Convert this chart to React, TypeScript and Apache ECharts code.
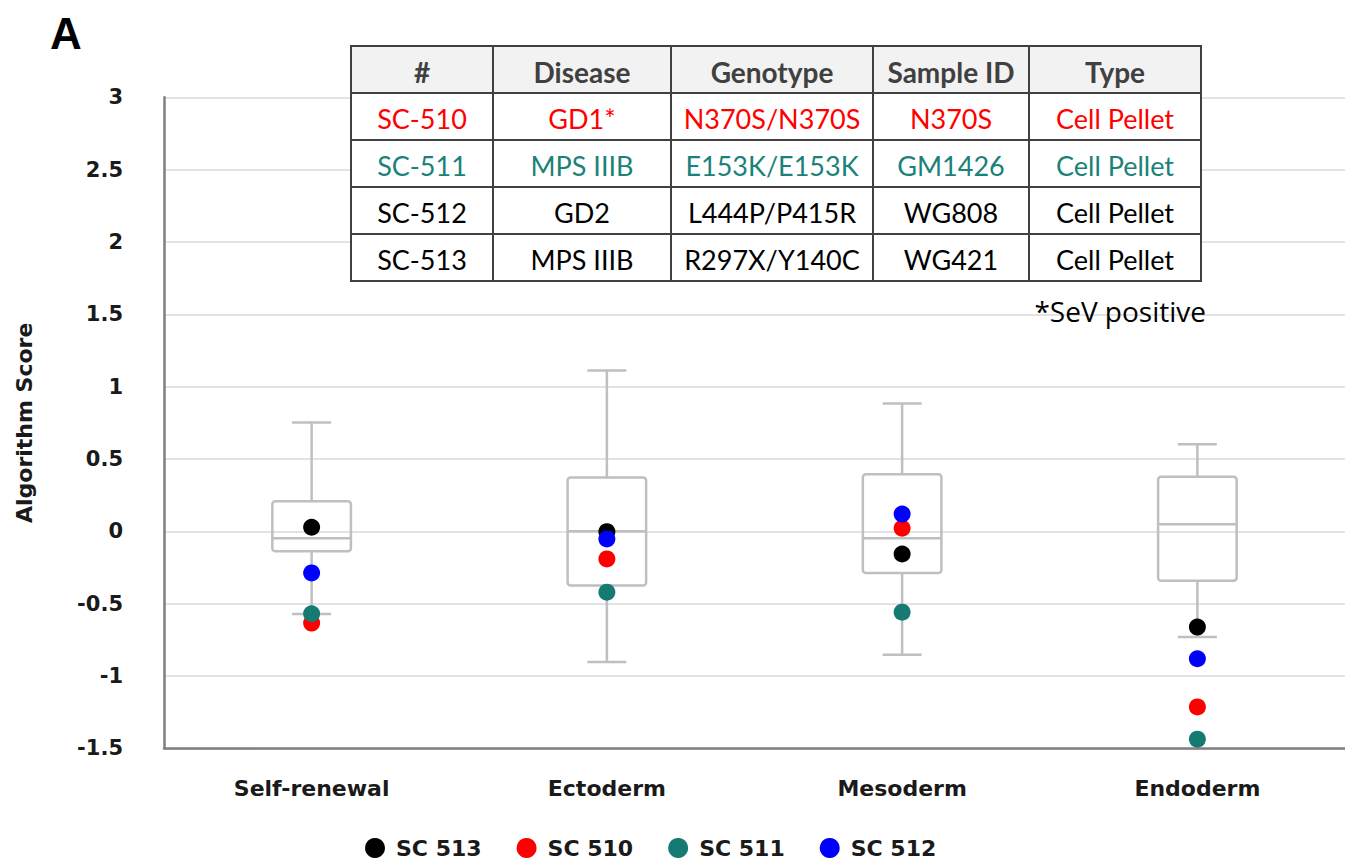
import React, { useEffect, useRef } from "react";
import * as echarts from "echarts";

const categories = ["Self-renewal", "Ectoderm", "Mesoderm", "Endoderm"];
// [min, Q1, median, Q3, max]
const boxMin = [-0.572, -0.903, -0.853, -0.731];
const boxQ1 = [-0.138, -0.375, -0.288, -0.341];
const boxMedian = [-0.048, 0.0, -0.048, 0.048];
const boxQ3 = [0.207, 0.372, 0.395, 0.377];
const boxMax = [0.752, 1.112, 0.883, 0.602];

const seriesNames = ["SC 513", "SC 510", "SC 511", "SC 512"];
const seriesColors = ["#000000", "#ff0000", "#147a72", "#0000ff"];
const sc513 = [0.028, -0.003, -0.157, -0.662];
const sc510 = [-0.634, -0.191, 0.021, -1.214];
const sc511 = [-0.57, -0.421, -0.559, -1.437];
const sc512 = [-0.288, -0.053, 0.119, -0.881];
const seriesValues = [sc513, sc510, sc511, sc512];

const yTicks = { min: -1.5, max: 3, interval: 0.5 };

const tableHeader = ["#", "Disease", "Genotype", "Sample ID", "Type"];
const tableRows = [
  ["SC-510", "GD1*", "N370S/N370S", "N370S", "Cell Pellet"],
  ["SC-511", "MPS IIIB", "E153K/E153K", "GM1426", "Cell Pellet"],
  ["SC-512", "GD2", "L444P/P415R", "WG808", "Cell Pellet"],
  ["SC-513", "MPS IIIB", "R297X/Y140C", "WG421", "Cell Pellet"],
];
const rowColors = ["#ff0000", "#1a8278", "#000000", "#000000"];
const footnote = "*SeV positive";

const colX = [351, 493, 671, 873, 1029, 1201];
const rowY = [46, 93, 140, 187, 234, 281];

export default function App() {
  const ref = useRef<HTMLDivElement>(null);
  useEffect(() => {
    if (!ref.current) return;
    const chart = echarts.init(ref.current, undefined, { renderer: "svg" });

    const boxData = categories.map((_, i) => [i, boxMin[i], boxQ1[i], boxMedian[i], boxQ3[i], boxMax[i]]);

    const graphics: any[] = [];
    graphics.push({
      type: "text",
      left: 50,
      top: 11,
      style: { text: "A", font: "bold 44px 'Liberation Sans', Arial", fill: "#000" },
    });
    const tableFont = "Lato";
    for (let r = 0; r < 5; r++) {
      for (let c = 0; c < 5; c++) {
        graphics.push({
          type: "rect",
          shape: { x: colX[c], y: rowY[r], width: colX[c + 1] - colX[c], height: rowY[r + 1] - rowY[r] },
          style: { fill: r === 0 ? "#f2f2f2" : "#ffffff", stroke: "#404040", lineWidth: 2 },
          z: 10,
        });
        const txt = r === 0 ? tableHeader[c] : tableRows[r - 1][c];
        graphics.push({
          type: "text",
          x: (colX[c] + colX[c + 1]) / 2,
          y: (rowY[r] + rowY[r + 1]) / 2 + 2,
          style: {
            text: txt,
            fill: r === 0 ? "#404040" : rowColors[r - 1],
            font: r === 0 ? `bold 28px ${tableFont}` : `27px ${tableFont}`,
            align: "center",
            verticalAlign: "middle",
          },
          z: 11,
        });
      }
    }
    graphics.push({
      type: "text",
      x: 1206,
      y: 311,
      style: { text: footnote, fill: "#000", font: "28px 'Open Sans'", align: "right", verticalAlign: "middle" },
      z: 11,
    });

    const labelFont = "'DejaVu Sans'";

    chart.setOption({
      animation: false,
      backgroundColor: "#ffffff",
      grid: { left: 164, right: -9, top: 97.3, bottom: 114.7 },
      legend: {
        data: seriesNames.map((n) => ({ name: n, icon: "circle" })),
        left: 360,
        top: 832,
        itemWidth: 20,
        itemHeight: 20,
        itemGap: 35,
        textStyle: { fontFamily: labelFont, fontWeight: "bold", fontSize: 22, color: "#1a1a1a", padding: [0, 0, 0, 6] },
      },
      xAxis: {
        type: "category",
        data: categories,
        boundaryGap: true,
        axisLine: { onZero: false, lineStyle: { color: "#7f7f7f", width: 2.5 } },
        axisTick: { show: false },
        axisLabel: { margin: 29, fontFamily: labelFont, fontWeight: "bold", fontSize: 22, color: "#1a1a1a" },
        splitLine: { show: false },
      },
      yAxis: {
        type: "value",
        min: yTicks.min,
        max: yTicks.max,
        interval: yTicks.interval,
        name: "Algorithm Score",
        nameLocation: "middle",
        nameGap: 129,
        nameTextStyle: { fontFamily: labelFont, fontWeight: "bold", fontSize: 22, color: "#1a1a1a" },
        axisLine: { show: true, lineStyle: { color: "#7f7f7f", width: 2.5 } },
        axisTick: { show: false },
        axisLabel: { margin: 41, fontFamily: labelFont, fontWeight: "bold", fontSize: 21, color: "#1a1a1a", padding: [5, 0, 0, 0] },
        splitLine: { lineStyle: { color: "#e3e3e3", width: 2 } },
      },
      graphic: graphics,
      series: [
        {
          type: "custom",
          name: "box",
          data: boxData,
          encode: { x: 0, y: [1, 2, 3, 4, 5] },
          z: 2,
          renderItem: (params: any, api: any) => {
            const i = api.value(0);
            const pMin = api.coord([i, api.value(1)]);
            const pQ1 = api.coord([i, api.value(2)]);
            const pMed = api.coord([i, api.value(3)]);
            const pQ3 = api.coord([i, api.value(4)]);
            const pMax = api.coord([i, api.value(5)]);
            const band = api.size([1, 0])[0];
            const hb = band * 0.133;
            const hc = band * 0.066;
            const cx = pMed[0];
            const st = { stroke: "#bfbfbf", lineWidth: 2.5, fill: "none" };
            return {
              type: "group",
              children: [
                { type: "rect", shape: { x: cx - hb, y: pQ3[1], width: hb * 2, height: pQ1[1] - pQ3[1], r: 3 }, style: st },
                { type: "line", shape: { x1: cx - hb, y1: pMed[1], x2: cx + hb, y2: pMed[1] }, style: st },
                { type: "line", shape: { x1: cx, y1: pQ3[1], x2: cx, y2: pMax[1] }, style: st },
                { type: "line", shape: { x1: cx - hc, y1: pMax[1], x2: cx + hc, y2: pMax[1] }, style: st },
                { type: "line", shape: { x1: cx, y1: pQ1[1], x2: cx, y2: pMin[1] }, style: st },
                { type: "line", shape: { x1: cx - hc, y1: pMin[1], x2: cx + hc, y2: pMin[1] }, style: st },
              ],
            };
          },
        },
        ...seriesNames.map((name, k) => ({
          type: "scatter",
          name,
          data: seriesValues[k],
          symbol: "circle",
          symbolSize: 17,
          itemStyle: { color: seriesColors[k], opacity: 1 },
          z: 3 + k,
        })),
      ],
    });
    return () => chart.dispose();
  }, []);
  return <div ref={ref} style={{ position: "fixed", left: 0, top: 0, width: 1345, height: 863 }} />;
}
